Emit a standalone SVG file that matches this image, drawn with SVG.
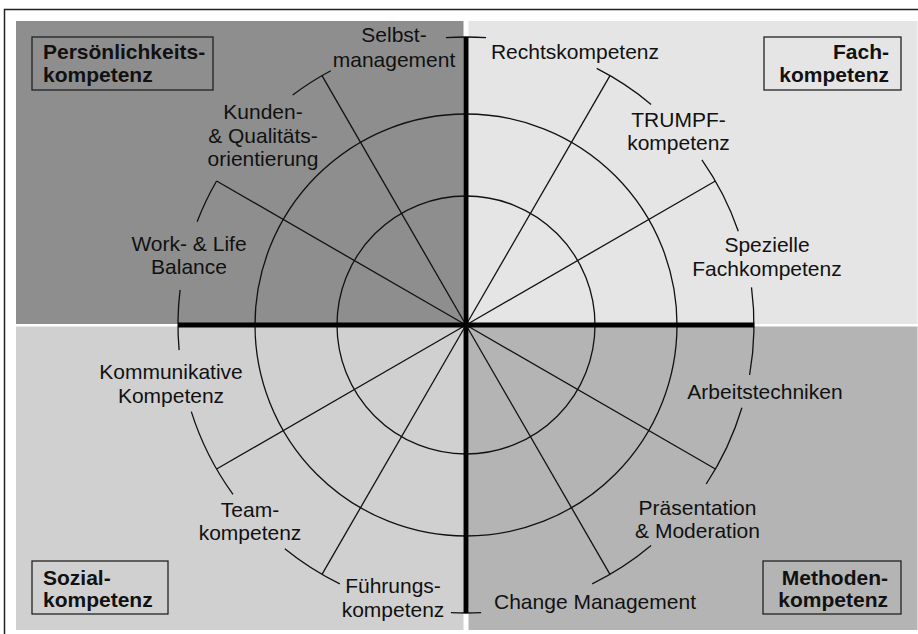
<svg xmlns="http://www.w3.org/2000/svg" width="918" height="634" viewBox="0 0 918 634">
  <style>
    .lbl { font-family: "Liberation Sans", Arial, sans-serif; font-size: 21px; fill: #111; text-anchor: middle; }
    .title { font-family: "Liberation Sans", Arial, sans-serif; font-size: 21px; font-weight: bold; fill: #111; }
    .box { fill: none; stroke: #222; stroke-width: 1.3; }
    .thin { fill: none; stroke: #111; stroke-width: 1.3; }
    .axis { fill: none; stroke: #000; stroke-width: 5; stroke-linecap: butt; }
  </style>

  <!-- outer frame -->
  <rect x="4.5" y="9.5" width="930" height="640" fill="#fff" stroke="#222" stroke-width="1.5"/>

  <!-- quadrant backgrounds -->
  <g id="quadrants">
    <rect x="16" y="21" width="447.5" height="303" fill="#8e8e8e"/>
    <rect x="468.5" y="21" width="449" height="303" fill="#e5e5e5"/>
    <rect x="16" y="326.5" width="447.5" height="303.5" fill="#d0d0d0"/>
    <rect x="468.5" y="326.5" width="449" height="303.5" fill="#b4b4b4"/>
  </g>

  <!-- rings, spokes, axes and outer arc segments -->
  <g id="connectors">
    <circle class="thin" cx="466" cy="325" r="129"/>
    <circle class="thin" cx="466" cy="325" r="211"/>

    <line class="thin" x1="466" y1="325" x2="715.4" y2="181"/>
    <line class="thin" x1="466" y1="325" x2="610" y2="75.6"/>
    <line class="thin" x1="466" y1="325" x2="322" y2="75.6"/>
    <line class="thin" x1="466" y1="325" x2="216.6" y2="181"/>
    <line class="thin" x1="466" y1="325" x2="216.6" y2="469"/>
    <line class="thin" x1="466" y1="325" x2="322" y2="574.4"/>
    <line class="thin" x1="466" y1="325" x2="610" y2="574.4"/>
    <line class="thin" x1="466" y1="325" x2="715.4" y2="469"/>

    <path class="thin" d="M749.6 375 A288 288 0 0 0 751.5 287.4"/>
    <path class="thin" d="M738.3 231.2 A288 288 0 0 0 701.9 159.8"/>
    <path class="thin" d="M651.1 104.4 A288 288 0 0 0 596.7 68.4"/>
    <path class="thin" d="M486.1 37.7 A288 288 0 0 0 445.9 37.7"/>
    <path class="thin" d="M330.8 70.7 A288 288 0 0 0 292.7 95"/>
    <path class="thin" d="M216.6 181 A288 288 0 0 0 197.1 221.8"/>
    <path class="thin" d="M180.1 289.9 A288 288 0 0 0 179.1 350.1"/>
    <path class="thin" d="M191.3 411.6 A288 288 0 0 0 233 494.3"/>
    <path class="thin" d="M284.8 548.8 A288 288 0 0 0 339.8 583.9"/>
    <path class="thin" d="M450.9 612.6 A288 288 0 0 0 481.1 612.6"/>
    <path class="thin" d="M592.2 583.9 A288 288 0 0 0 651.1 545.6"/>
    <path class="thin" d="M706.2 484 A288 288 0 0 0 741.9 407.8"/>

    <line class="axis" x1="178" y1="325" x2="754.3" y2="325"/>
    <line class="axis" x1="466" y1="37" x2="466" y2="613"/>
  </g>

  <!-- corner titles -->
  <g id="persoenlichkeitskompetenz">
    <rect class="box" x="32" y="37" width="181" height="53"/>
    <text class="title" x="43" y="59">Persönlichkeits-</text>
    <text class="title" x="43" y="81.5">kompetenz</text>
  </g>
  <g id="fachkompetenz">
    <rect class="box" x="764" y="37" width="137" height="53"/>
    <text class="title" x="889" y="59" text-anchor="end">Fach-</text>
    <text class="title" x="889" y="81.5" text-anchor="end">kompetenz</text>
  </g>
  <g id="sozialkompetenz">
    <rect class="box" x="32" y="561" width="136" height="53"/>
    <text class="title" x="43" y="584.5">Sozial-</text>
    <text class="title" x="43" y="607">kompetenz</text>
  </g>
  <g id="methodenkompetenz">
    <rect class="box" x="763" y="561" width="138" height="53"/>
    <text class="title" x="888" y="584.5" text-anchor="end">Methoden-</text>
    <text class="title" x="888" y="607" text-anchor="end">kompetenz</text>
  </g>

  <!-- competence labels around the wheel -->
  <g id="selbstmanagement">
    <text class="lbl" x="394" y="42">Selbst-</text>
    <text class="lbl" x="394" y="66.5">management</text>
  </g>
  <g id="rechtskompetenz">
    <text class="lbl" x="575" y="59">Rechtskompetenz</text>
  </g>
  <g id="trumpfkompetenz">
    <text class="lbl" x="678.5" y="127">TRUMPF-</text>
    <text class="lbl" x="678.5" y="150">kompetenz</text>
  </g>
  <g id="spezielle-fachkompetenz">
    <text class="lbl" x="767" y="252">Spezielle</text>
    <text class="lbl" x="767" y="276">Fachkompetenz</text>
  </g>
  <g id="arbeitstechniken">
    <text class="lbl" x="765" y="399">Arbeitstechniken</text>
  </g>
  <g id="praesentation">
    <text class="lbl" x="697.5" y="515">Präsentation</text>
    <text class="lbl" x="697.5" y="538">&amp; Moderation</text>
  </g>
  <g id="change-management">
    <text class="lbl" x="595" y="609">Change Management</text>
  </g>
  <g id="fuehrungskompetenz">
    <text class="lbl" x="393" y="593">Führungs-</text>
    <text class="lbl" x="393" y="617">kompetenz</text>
  </g>
  <g id="teamkompetenz">
    <text class="lbl" x="250" y="517">Team-</text>
    <text class="lbl" x="250" y="539.5">kompetenz</text>
  </g>
  <g id="kommunikative-kompetenz">
    <text class="lbl" x="171" y="379">Kommunikative</text>
    <text class="lbl" x="171" y="402.5">Kompetenz</text>
  </g>
  <g id="work-life-balance">
    <text class="lbl" x="189" y="251">Work- &amp; Life</text>
    <text class="lbl" x="189" y="274">Balance</text>
  </g>
  <g id="kunden-qualitaet">
    <text class="lbl" x="263" y="119">Kunden-</text>
    <text class="lbl" x="263" y="142.5">&amp; Qualitäts-</text>
    <text class="lbl" x="263" y="166">orientierung</text>
  </g>
</svg>
